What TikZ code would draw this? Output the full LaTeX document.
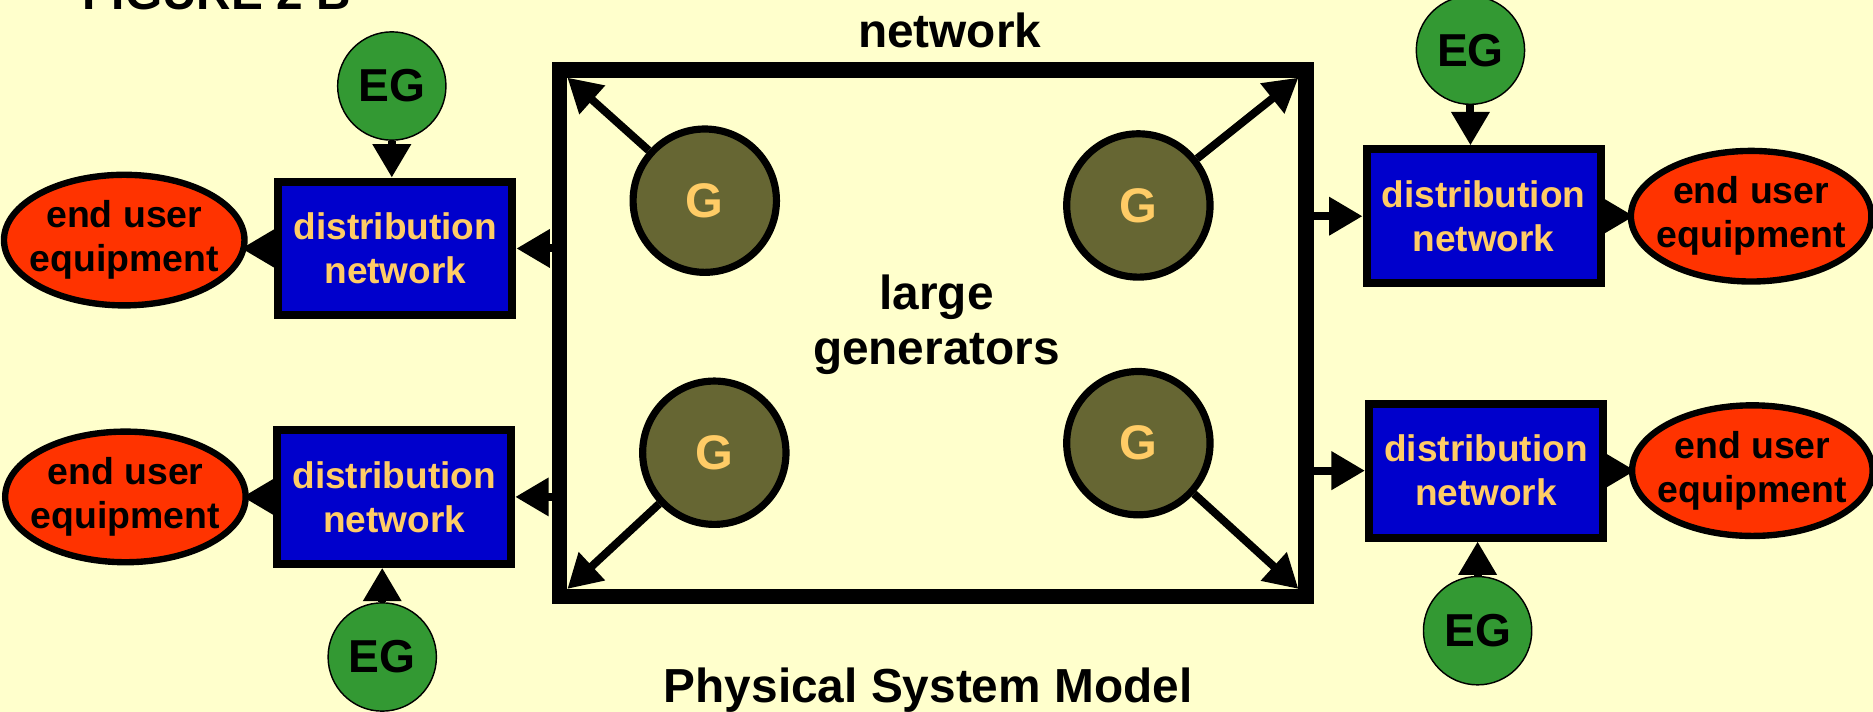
\documentclass[tikz,border=0pt]{standalone}
\usepackage{fontspec}
\setmainfont{Liberation Sans}
\usetikzlibrary{arrows.meta,shapes.geometric}
\definecolor{bgyellow}{HTML}{FFFFCC}
\definecolor{distblue}{HTML}{0000CC}
\definecolor{euorange}{HTML}{FF3300}
\definecolor{eggreen}{HTML}{339933}
\definecolor{genolive}{HTML}{666633}
\definecolor{goldtext}{HTML}{FFCC66}
\newcommand\fsz[2]{\fontsize{#1}{#2}\selectfont}
\begin{document}
\begin{tikzpicture}[x=0.75pt,y=-0.75pt,
  distbox/.style={rectangle, draw=black, fill=distblue, line width=5pt,
    minimum width=147pt, minimum height=84pt, inner sep=0pt,
    text=goldtext, font=\bfseries\fsz{23.25}{27.75}, align=center},
  euser/.style={ellipse, draw=black, fill=euorange, line width=4pt,
    minimum width=151pt, minimum height=82pt, inner sep=0pt,
    text=black, font=\bfseries\fsz{23.5}{27.75}, align=center},
  egen/.style={circle, draw=black, fill=eggreen, line width=0.9pt,
    minimum size=68pt, inner sep=0pt, font=\bfseries\fsz{29}{30}},
  gen/.style={circle, draw=black, fill=genolive, line width=4.5pt,
    minimum size=90pt, inner sep=0pt, text=goldtext, font=\bfseries\fsz{30.5}{32}},
  netbox/.style={rectangle, draw=black, line width=9.75pt,
    minimum width=468.75pt, minimum height=330.75pt, inner sep=0pt},
  arr/.style={line width=5pt, -{Triangle[length=21pt,width=23pt]}},
  lbl/.style={font=\bfseries\fsz{30}{34.5}, align=center}
]
\useasboundingbox (0,0) rectangle (1568,596);
\fill[bgyellow] (0,0) rectangle (1568,596);

% title fragments
\node[lbl, anchor=base west, inner sep=0pt] (fig) at (69,8) {FIGURE 2 B};
\node[lbl, anchor=base, inner sep=0pt] (nettitle) at (795,40) {network};
\node[lbl, anchor=base, inner sep=0pt] (psm) at (777,588) {Physical System Model};

% network box
\node[netbox] (net) at (781,279) {};
\coordinate (c1) at (475,65);
\coordinate (c2) at (1087,65);
\coordinate (c3) at (475,493);
\coordinate (c4) at (1087,493);

% generators
\node[gen] (g1) at (590,168) {G};
\node[gen] (g2) at (953,172) {G};
\node[gen] (g3) at (598,379) {G};
\node[gen] (g4) at (953,371) {G};
\node[lbl] (lg) at (784,272) {large\\generators};

\draw[arr] (g1) -- (c1);
\draw[arr] (g2) -- (c2);
\draw[arr] (g3) -- (c3);
\draw[arr] (g4) -- (c4);

% distribution networks
\node[distbox] (dl1) at (331,208) {distribution\\network};
\node[distbox] (dl2) at (330,416) {distribution\\network};
\node[distbox] (dr1) at (1242,181) {distribution\\network};
\node[distbox] (dr2) at (1244,394) {distribution\\network};

% end user equipment
\node[euser] (el1) at (104,201) {\makebox[0pt]{end user}\\\makebox[0pt]{equipment}};
\node[euser] (el2) at (105,416) {\makebox[0pt]{end user}\\\makebox[0pt]{equipment}};
\node[euser] (er1) at (1466,181) {\makebox[0pt]{end user}\\\makebox[0pt]{equipment}};
\node[euser] (er2) at (1467,394) {\makebox[0pt]{end user}\\\makebox[0pt]{equipment}};

% embedded generators
\node[egen] (eg1) at (328,72) {EG};
\node[egen] (eg2) at (320,550) {EG};
\node[egen] (eg3) at (1231,42) {EG};
\node[egen] (eg4) at (1237,528) {EG};

% connectors
\draw[arr] (eg1) -- (eg1 |- dl1.north);
\draw[arr] (eg2) -- (eg2 |- dl2.south);
\draw[arr] (eg3) -- (eg3 |- dr1.north);
\draw[arr] (eg4) -- (eg4 |- dr2.south);

\draw[arr] (net.west |- dl1) -- (dl1.east);
\draw[arr] (net.west |- dl2) -- (dl2.east);
\draw[arr] (net.east |- dr1) -- (dr1.west);
\draw[arr] (net.east |- dr2) -- (dr2.west);

\draw[arr] (dl1.west) -- ([xshift=-4pt]dl1.west -| el1.east);
\draw[arr] (dl2.west) -- ([xshift=-4pt]dl2.west -| el2.east);
\draw[arr] (dr1.east) -- ([xshift=4pt]dr1.east -| er1.west);
\draw[arr] (dr2.east) -- ([xshift=4pt]dr2.east -| er2.west);
\end{tikzpicture}
\end{document}
